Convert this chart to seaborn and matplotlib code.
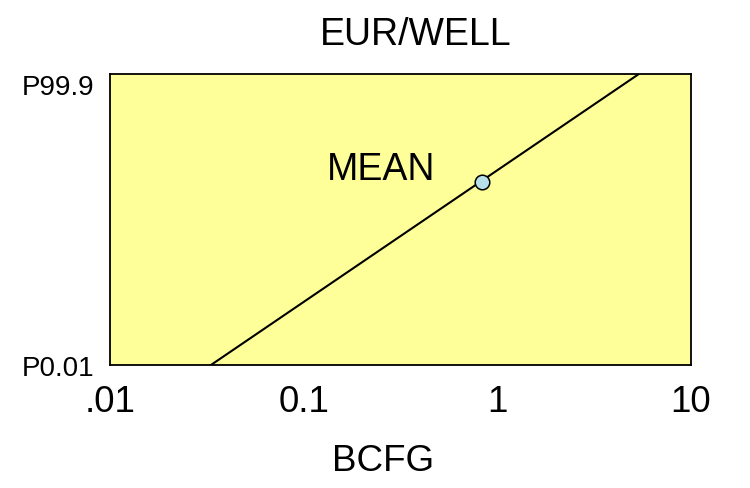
import numpy as np
import pandas as pd
import seaborn as sns
import matplotlib
matplotlib.use("Agg")
import matplotlib.pyplot as plt
from statistics import NormalDist

# values
line_pct = [0.01, 99.9]          # percentile at each end of the line
line_bcfg = [0.0332, 5.38]       # EUR per well, BCFG
mean_bcfg = 0.83
mean_pct = 71.0
x_ticks = [0.01, 0.1, 1, 10]
x_labels = [".01", "0.1", "1", "10"]
y_ticks_pct = [0.01, 99.9]
y_labels = ["P0.01", "P99.9"]

nd = NormalDist()
def z(p):
    return nd.inv_cdf(p / 100.0)

df = pd.DataFrame({"BCFG": line_bcfg, "z": [z(p) for p in line_pct]})

sns.set_style("white")
plt.rcParams["font.family"] = ["Liberation Sans", "DejaVu Sans"]
plt.rcParams["text.color"] = "black"
plt.rcParams["xtick.color"] = "black"
plt.rcParams["ytick.color"] = "black"

fig = plt.figure(figsize=(7.5, 4.89), dpi=100)
ax = fig.add_axes([110 / 750, 1 - 366 / 489, 581 / 750, 291 / 489])
ax.set_facecolor("#ffff99")

sns.lineplot(data=df, x="BCFG", y="z", ax=ax, color="black", linewidth=1.5)
ax.plot([mean_bcfg], [z(mean_pct)], marker="o", markersize=10.5,
        markerfacecolor="#b8e0e8", markeredgecolor="black",
        markeredgewidth=1.1, linestyle="none", zorder=5)

ax.set_xscale("log")
ax.set_xlim(0.01, 10)
ax.set_ylim(z(y_ticks_pct[0]), z(y_ticks_pct[1]))
ax.set_xticks(x_ticks)
ax.set_xticklabels(x_labels, fontsize=26.5)
ax.minorticks_off()
ax.set_yticks([z(p) for p in y_ticks_pct])
ax.set_yticklabels(y_labels, fontsize=20)
ax.get_yticklabels()[1].set_verticalalignment("top")
ax.tick_params(axis="x", length=0, pad=14)
ax.tick_params(axis="y", length=0, pad=11)
ax.set_xlabel("")
ax.set_ylabel("")
for s in ax.spines.values():
    s.set_visible(True)
    s.set_color("black")
    s.set_linewidth(1.3)

ax.text((381 - 110) / 581, (366 - 170) / 291, "MEAN", transform=ax.transAxes,
        fontsize=27, ha="center", va="center")
fig.text(416 / 750, 1 - 35 / 489, "EUR/WELL", fontsize=27, ha="center", va="center")
fig.text(383 / 750, 1 - 462 / 489, "BCFG", fontsize=26.5, ha="center", va="center")

fig.savefig("out.png", dpi=100)
